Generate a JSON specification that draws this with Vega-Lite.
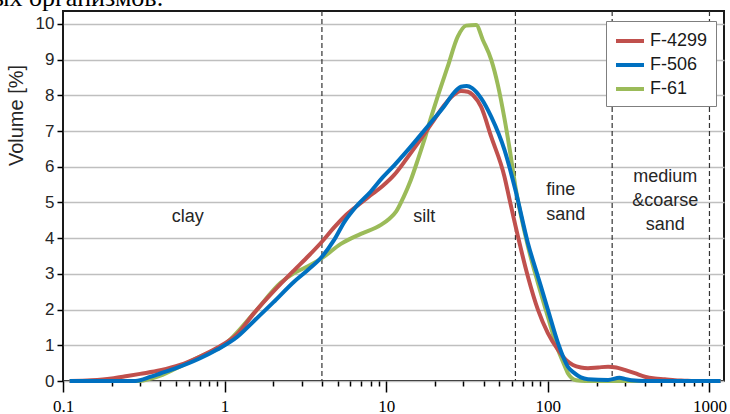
{
  "$schema": "https://vega.github.io/schema/vega-lite/v6.json",
  "width": 661,
  "height": 370,
  "autosize": {"type": "none"},
  "padding": {"left": 63, "top": 11, "right": 6, "bottom": 33},
  "background": "white",
  "title": {"text": "ых организмов.", "anchor": "start", "frame": "group", "font": "Liberation Serif", "fontSize": 26, "fontWeight": "normal", "color": "black", "baseline": "alphabetic", "offset": 0, "dy": 22, "dx": -71},
  "config": {
    "font": "Liberation Sans",
    "view": {"stroke": "#1a1a1a", "strokeWidth": 2},
    "axisX": {
      "values": [0.1, 0.2, 0.3, 0.4, 0.5, 0.6, 0.7, 0.8, 0.9, 1, 2, 3, 4, 5, 6, 7, 8, 9, 10, 20, 30, 40, 50, 60, 70, 80, 90, 100, 200, 300, 400, 500, 600, 700, 800, 900, 1000],
      "grid": false,
      "domain": false,
      "tickColor": "black",
      "tickWidth": 1.5,
      "labelFont": "Liberation Serif",
      "labelFontSize": 17,
      "labelColor": "black",
      "labelPadding": 6,
      "labelFlush": false,
      "labelOverlap": false,
      "labelBound": false
    },
    "axisY": {
      "values": [0, 1, 2, 3, 4, 5, 6, 7, 8, 9, 10],
      "grid": true,
      "gridColor": "#BFBFBF",
      "gridWidth": 1.3,
      "domain": false,
      "tickColor": "black",
      "tickWidth": 1.5,
      "tickSize": 6,
      "labelFont": "Liberation Sans",
      "labelFontSize": 17,
      "labelColor": "#262626",
      "labelPadding": 3,
      "titleFont": "Liberation Sans",
      "titleFontSize": 20,
      "titleFontWeight": "normal",
      "titleColor": "#262626",
      "titleAngle": -90,
      "titleX": -47,
      "titleY": 104,
      "titleAlign": "center",
      "titleBaseline": "middle"
    }
  },
  "datasets": {
    "dividers": [{"d": 4}, {"d": 63}, {"d": 250}, {"d": 1000}],
    "labels": [
      {"d": 0.592, "v": 4.6, "t": "clay", "a": "c"},
      {"d": 17.2, "v": 4.6, "t": "silt", "a": "c"},
      {"d": 97.7, "v": 5.35, "t": "fine\nsand", "a": "l"},
      {"d": 532, "v": 5.71, "t": "medium\n&coarse\nsand", "a": "c"}
    ],
    "curves": [
      {"s": "F-61", "d": 0.11, "v": 0}, {"s": "F-61", "d": 0.3, "v": 0}, {"s": "F-61", "d": 0.35, "v": 0.07}, {"s": "F-61", "d": 0.4, "v": 0.15}, {"s": "F-61", "d": 0.5, "v": 0.35}, {"s": "F-61", "d": 0.7, "v": 0.68}, {"s": "F-61", "d": 1.0, "v": 1.02}, {"s": "F-61", "d": 1.52, "v": 1.9}, {"s": "F-61", "d": 2.22, "v": 2.75}, {"s": "F-61", "d": 2.69, "v": 3.02}, {"s": "F-61", "d": 3.3, "v": 3.22}, {"s": "F-61", "d": 4, "v": 3.44}, {"s": "F-61", "d": 5.24, "v": 3.84}, {"s": "F-61", "d": 6.97, "v": 4.12}, {"s": "F-61", "d": 9.27, "v": 4.37}, {"s": "F-61", "d": 10.5, "v": 4.55}, {"s": "F-61", "d": 11.5, "v": 4.74}, {"s": "F-61", "d": 12.8, "v": 5.15}, {"s": "F-61", "d": 14.2, "v": 5.63}, {"s": "F-61", "d": 15.7, "v": 6.2}, {"s": "F-61", "d": 17.2, "v": 6.75}, {"s": "F-61", "d": 19, "v": 7.4}, {"s": "F-61", "d": 20.8, "v": 7.96}, {"s": "F-61", "d": 24, "v": 8.8}, {"s": "F-61", "d": 27.7, "v": 9.64}, {"s": "F-61", "d": 31.2, "v": 9.95}, {"s": "F-61", "d": 36, "v": 9.97}, {"s": "F-61", "d": 39.6, "v": 9.55}, {"s": "F-61", "d": 44.6, "v": 9.0}, {"s": "F-61", "d": 49, "v": 8.3}, {"s": "F-61", "d": 53.9, "v": 7.35}, {"s": "F-61", "d": 58, "v": 6.5}, {"s": "F-61", "d": 63, "v": 5.44}, {"s": "F-61", "d": 75.3, "v": 3.77}, {"s": "F-61", "d": 86.9, "v": 2.74}, {"s": "F-61", "d": 100, "v": 1.8}, {"s": "F-61", "d": 115.6, "v": 0.87}, {"s": "F-61", "d": 125, "v": 0.5}, {"s": "F-61", "d": 133, "v": 0.22}, {"s": "F-61", "d": 150, "v": 0.02}, {"s": "F-61", "d": 170, "v": 0}, {"s": "F-61", "d": 1170, "v": 0},
      {"s": "F-4299", "d": 0.11, "v": 0}, {"s": "F-4299", "d": 0.15, "v": 0.02}, {"s": "F-4299", "d": 0.2, "v": 0.07}, {"s": "F-4299", "d": 0.25, "v": 0.14}, {"s": "F-4299", "d": 0.3, "v": 0.2}, {"s": "F-4299", "d": 0.4, "v": 0.3}, {"s": "F-4299", "d": 0.53, "v": 0.45}, {"s": "F-4299", "d": 0.7, "v": 0.68}, {"s": "F-4299", "d": 0.9, "v": 0.93}, {"s": "F-4299", "d": 1.2, "v": 1.32}, {"s": "F-4299", "d": 1.52, "v": 1.9}, {"s": "F-4299", "d": 2.0, "v": 2.5}, {"s": "F-4299", "d": 2.69, "v": 3.1}, {"s": "F-4299", "d": 3.3, "v": 3.5}, {"s": "F-4299", "d": 4, "v": 3.9}, {"s": "F-4299", "d": 4.76, "v": 4.3}, {"s": "F-4299", "d": 5.5, "v": 4.6}, {"s": "F-4299", "d": 6.5, "v": 4.88}, {"s": "F-4299", "d": 8, "v": 5.2}, {"s": "F-4299", "d": 9.5, "v": 5.46}, {"s": "F-4299", "d": 11.2, "v": 5.77}, {"s": "F-4299", "d": 13.5, "v": 6.25}, {"s": "F-4299", "d": 15.7, "v": 6.66}, {"s": "F-4299", "d": 19, "v": 7.2}, {"s": "F-4299", "d": 22.9, "v": 7.73}, {"s": "F-4299", "d": 26, "v": 8.0}, {"s": "F-4299", "d": 29, "v": 8.12}, {"s": "F-4299", "d": 32, "v": 8.1}, {"s": "F-4299", "d": 34.5, "v": 8.0}, {"s": "F-4299", "d": 38.6, "v": 7.68}, {"s": "F-4299", "d": 44.6, "v": 6.84}, {"s": "F-4299", "d": 53.9, "v": 5.72}, {"s": "F-4299", "d": 58, "v": 5.07}, {"s": "F-4299", "d": 63, "v": 4.35}, {"s": "F-4299", "d": 75.3, "v": 2.92}, {"s": "F-4299", "d": 86.9, "v": 1.99}, {"s": "F-4299", "d": 100, "v": 1.34}, {"s": "F-4299", "d": 115.6, "v": 0.87}, {"s": "F-4299", "d": 130, "v": 0.58}, {"s": "F-4299", "d": 143, "v": 0.45}, {"s": "F-4299", "d": 160, "v": 0.38}, {"s": "F-4299", "d": 177, "v": 0.36}, {"s": "F-4299", "d": 205, "v": 0.38}, {"s": "F-4299", "d": 236, "v": 0.4}, {"s": "F-4299", "d": 265, "v": 0.38}, {"s": "F-4299", "d": 299, "v": 0.31}, {"s": "F-4299", "d": 345, "v": 0.22}, {"s": "F-4299", "d": 398, "v": 0.12}, {"s": "F-4299", "d": 460, "v": 0.07}, {"s": "F-4299", "d": 529, "v": 0.05}, {"s": "F-4299", "d": 610, "v": 0.02}, {"s": "F-4299", "d": 700, "v": 0.01}, {"s": "F-4299", "d": 800, "v": 0}, {"s": "F-4299", "d": 1170, "v": 0},
      {"s": "F-506", "d": 0.11, "v": 0}, {"s": "F-506", "d": 0.28, "v": 0}, {"s": "F-506", "d": 0.35, "v": 0.12}, {"s": "F-506", "d": 0.4, "v": 0.21}, {"s": "F-506", "d": 0.5, "v": 0.36}, {"s": "F-506", "d": 0.7, "v": 0.63}, {"s": "F-506", "d": 0.9, "v": 0.88}, {"s": "F-506", "d": 1.2, "v": 1.24}, {"s": "F-506", "d": 1.52, "v": 1.68}, {"s": "F-506", "d": 2.0, "v": 2.2}, {"s": "F-506", "d": 2.69, "v": 2.78}, {"s": "F-506", "d": 3.3, "v": 3.12}, {"s": "F-506", "d": 4, "v": 3.48}, {"s": "F-506", "d": 4.76, "v": 3.95}, {"s": "F-506", "d": 5.5, "v": 4.45}, {"s": "F-506", "d": 6.5, "v": 4.88}, {"s": "F-506", "d": 8, "v": 5.3}, {"s": "F-506", "d": 9.5, "v": 5.7}, {"s": "F-506", "d": 11.2, "v": 6.04}, {"s": "F-506", "d": 13.5, "v": 6.45}, {"s": "F-506", "d": 15.7, "v": 6.8}, {"s": "F-506", "d": 19, "v": 7.25}, {"s": "F-506", "d": 22.9, "v": 7.7}, {"s": "F-506", "d": 26, "v": 8.05}, {"s": "F-506", "d": 29, "v": 8.24}, {"s": "F-506", "d": 31.5, "v": 8.26}, {"s": "F-506", "d": 34, "v": 8.2}, {"s": "F-506", "d": 38.6, "v": 7.92}, {"s": "F-506", "d": 44.6, "v": 7.4}, {"s": "F-506", "d": 53.9, "v": 6.47}, {"s": "F-506", "d": 63, "v": 5.35}, {"s": "F-506", "d": 75.3, "v": 3.86}, {"s": "F-506", "d": 86.9, "v": 2.92}, {"s": "F-506", "d": 100, "v": 2.0}, {"s": "F-506", "d": 115.6, "v": 1.06}, {"s": "F-506", "d": 133, "v": 0.4}, {"s": "F-506", "d": 146, "v": 0.22}, {"s": "F-506", "d": 160, "v": 0.1}, {"s": "F-506", "d": 177, "v": 0.05}, {"s": "F-506", "d": 236, "v": 0.03}, {"s": "F-506", "d": 277, "v": 0.09}, {"s": "F-506", "d": 300, "v": 0.06}, {"s": "F-506", "d": 329, "v": 0.02}, {"s": "F-506", "d": 400, "v": 0}, {"s": "F-506", "d": 1170, "v": 0}
    ]
  },
  "encoding": {
    "x": {
      "field": "d", "type": "quantitative",
      "scale": {"type": "log", "domain": [0.1, 1230]},
      "axis": {
        "title": null,
        "tickSize": {"condition": {"test": "indexof([0.1,1,10,100,1000], datum.value) >= 0", "value": 11}, "value": 5},
        "labelExpr": "indexof([0.1,1,10,100,1000], datum.value) >= 0 ? datum.value : ''"
      }
    }
  },
  "layer": [
    {
      "data": {"name": "dividers"},
      "mark": {"type": "rule", "color": "#333333", "strokeWidth": 1.2, "strokeDash": [5, 3]},
      "encoding": {}
    },
    {
      "data": {"name": "curves"},
      "mark": {"type": "line", "strokeWidth": 4, "interpolate": "monotone"},
      "encoding": {
        "y": {
          "field": "v", "type": "quantitative",
          "scale": {"domain": [0, 10.36], "nice": false},
          "axis": {"title": "Volume [%]"}
        },
        "color": {
          "field": "s", "type": "nominal",
          "scale": {"domain": ["F-4299", "F-506", "F-61"], "range": ["#C0504D", "#0070C0", "#9BBB59"]},
          "legend": {
            "orient": "none",
            "legendX": 543,
            "legendY": 10,
            "title": null,
            "symbolType": "M-1,0H1.8",
            "symbolSize": 400,
            "symbolStrokeWidth": 4,
            "labelFont": "Liberation Sans",
            "labelFontSize": 18,
            "labelColor": "#1a1a1a",
            "labelOffset": 12,
            "rowPadding": 3,
            "padding": 8,
            "strokeColor": "#7f7f7f",
            "fillColor": "white"
          }
        }
      }
    },
    {
      "data": {"name": "labels"},
      "transform": [{"filter": "datum.a == 'c'"}],
      "mark": {"type": "text", "font": "Liberation Sans", "fontSize": 18, "color": "#262626", "align": "center", "baseline": "middle", "lineBreak": "\n", "lineHeight": 24},
      "encoding": {
        "y": {"field": "v", "type": "quantitative", "scale": {"domain": [0, 10.36], "nice": false}, "axis": {"title": "Volume [%]"}},
        "text": {"field": "t"}
      }
    },
    {
      "data": {"name": "labels"},
      "transform": [{"filter": "datum.a == 'l'"}],
      "mark": {"type": "text", "font": "Liberation Sans", "fontSize": 18, "color": "#262626", "align": "left", "baseline": "middle", "lineBreak": "\n", "lineHeight": 25},
      "encoding": {
        "y": {"field": "v", "type": "quantitative", "scale": {"domain": [0, 10.36], "nice": false}, "axis": {"title": "Volume [%]"}},
        "text": {"field": "t"}
      }
    }
  ]
}
